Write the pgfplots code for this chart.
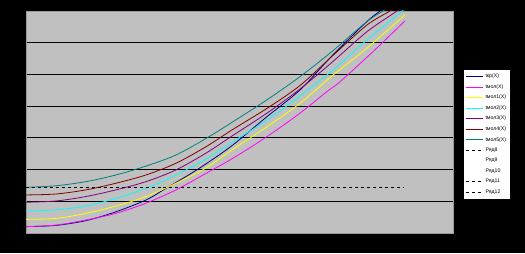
\documentclass[border=0pt]{standalone}
\usepackage{fontspec}
\setmainfont{Liberation Sans}
\usepackage{pgfplots}
\pgfplotsset{compat=1.18}
\definecolor{bgg}{RGB}{192,192,192}
\definecolor{cnavy}{RGB}{0,0,128}
\definecolor{cmag}{RGB}{255,0,255}
\definecolor{cyel}{RGB}{255,255,0}
\definecolor{ccya}{RGB}{0,255,255}
\definecolor{cpur}{RGB}{128,0,128}
\definecolor{cred}{RGB}{128,0,0}
\definecolor{cteal}{RGB}{0,128,128}
\begin{document}
\begin{tikzpicture}[x=1bp,y=1bp]
\fill[black] (0,0) rectangle (525,253);
\begin{axis}[
  at={(26bp,20bp)}, anchor=south west,
  scale only axis, width=427bp, height=222bp,
  xmin=26, xmax=453, ymin=0, ymax=7,
  axis background/.style={fill=bgg},
  axis line style={draw=bgg!80!black},
  xtick=\empty, ytick={1,2,3,4,5,6},
  yticklabels={}, major tick length=0pt,
  ymajorgrids, grid style={black, line width=0.9bp, solid},
  clip=true,
  every axis plot/.append style={line width=0.8bp, smooth, tension=0.5},
  legend style={at={(1.0258,0.734)}, anchor=north west,
    font=\fontsize{5.2}{6}\selectfont, draw=white, fill=white,
    row sep=1.35bp, inner sep=1.5bp},
  legend cell align=left,
  legend image code/.code={\draw[#1] (0bp,0bp) -- (17bp,0bp);},
]
\addplot[cnavy] coordinates {(26,0.20) (56,0.24) (86,0.39) (116,0.67) (146,1.04) (166,1.41) (186,1.78) (206,2.18) (233,2.78) (267,3.67) (300,4.51) (333,5.62) (367,6.67) (380,7.0) (385,7.15)};
\addlegendentry{tкр(X)}
\addplot[cmag] coordinates {(26,0.20) (56,0.25) (86,0.41) (116,0.62) (146,0.94) (176,1.36) (206,1.88) (233,2.36) (267,3.04) (300,3.78) (327,4.46) (340,4.77) (373,5.72) (405,6.69)};
\addlegendentry{tмол(X)}
\addplot[cyel] coordinates {(26,0.43) (56,0.46) (86,0.62) (116,0.85) (146,1.15) (176,1.57) (206,2.05) (233,2.64) (267,3.35) (300,4.09) (333,4.98) (367,5.83) (405,6.88)};
\addlegendentry{tмол1(X)}
\addplot[ccya] coordinates {(26,0.69) (56,0.73) (86,0.85) (116,1.09) (146,1.41) (176,1.83) (206,2.33) (233,2.88) (267,3.56) (300,4.32) (333,5.14) (367,6.09) (402,7.0) (405,7.1)};
\addlegendentry{tмол2(X)}
\addplot[cpur] coordinates {(26,0.97) (56,1.01) (86,1.15) (116,1.36) (146,1.62) (176,1.99) (206,2.52) (233,3.08) (267,3.78) (300,4.54) (333,5.41) (367,6.35) (397,7.0) (400,7.1)};
\addlegendentry{tмол3(X)}
\addplot[cred] coordinates {(26,1.20) (56,1.23) (86,1.36) (116,1.57) (146,1.83) (176,2.20) (206,2.72) (233,3.27) (267,3.93) (300,4.65) (333,5.60) (367,6.56) (390,7.0) (395,7.12)};
\addlegendentry{tмол4(X)}
\addplot[cteal] coordinates {(26,1.44) (56,1.49) (86,1.62) (116,1.83) (146,2.11) (176,2.46) (206,2.98) (233,3.51) (267,4.20) (300,4.93) (333,5.75) (367,6.67) (383,7.0) (388,7.12)};
\addlegendentry{tмол5(X)}
\addplot[black, dashed, sharp plot] coordinates {(26,1.45) (403,1.45)};
\addlegendentry{Ряд8}
\addlegendimage{legend image code/.code={}}
\addlegendentry{Ряд9}
\addlegendimage{legend image code/.code={}}
\addlegendentry{Ряд10}
\addlegendimage{black, dashed, line width=0.8bp}
\addlegendentry{Ряд11}
\addlegendimage{black, dashed, line width=0.8bp}
\addlegendentry{Ряд12}
\end{axis}
\end{tikzpicture}
\end{document}
